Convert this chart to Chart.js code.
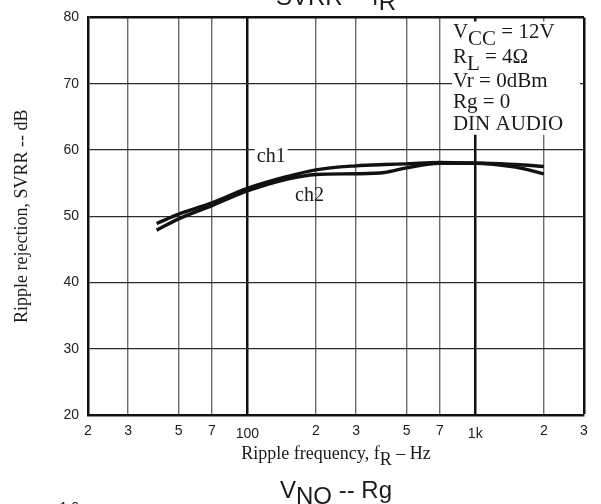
<!DOCTYPE html>
<html lang="en">
<head>
<meta charset="UTF-8">
<title>SVRR -- fR</title>
<script src="https://cdn.jsdelivr.net/npm/chart.js"></script>
<style>
  html, body { margin: 0; padding: 0; background: #fff; }
  canvas { display: block; }
</style>
</head>
<body>
<canvas id="chart" width="601" height="504"></canvas>
<script>
// ripple rejection vs ripple frequency, two channels
const freqs = [40, 50, 70, 100, 150, 200, 300, 400, 500, 700, 1000, 1500, 2000];
const ch1 = [48.9, 50.3, 52.0, 54.2, 56.0, 57.0, 57.6, 57.8, 57.9, 58.1, 58.0, 57.8, 57.5];
const ch2 = [47.9, 49.6, 51.6, 53.8, 55.6, 56.3, 56.4, 56.6, 57.3, 58.0, 58.0, 57.4, 56.4];

const xTicks = [20, 30, 50, 70, 100, 200, 300, 500, 700, 1000, 2000, 3000];
const xTickLabels = ['2', '3', '5', '7', '100', '2', '3', '5', '7', '1k', '2', '3'];
const yTicks = [20, 30, 40, 50, 60, 70, 80];

// test conditions, [text, isSubscript]
const conditions = [
  [['V'], ['CC', 1], [' = 12V']],
  [['R'], ['L', 1], [' = 4\u03A9']],
  [['Vr = 0dBm']],
  [['Rg = 0']],
  [['DIN AUDIO']]
];

const SANS = '"Liberation Sans", Arial, sans-serif';
const SERIF = '"Liberation Serif", "Times New Roman", serif';

Chart.defaults.font.family = SANS;
Chart.defaults.color = '#222';

function runs(ctx, parts, x, y, sub, align) {
  let w = 0;
  parts.forEach(p => { w += ctx.measureText(p[0]).width; });
  let cx = align === 'center' ? x - w / 2 : x;
  ctx.textAlign = 'left';
  parts.forEach(p => {
    ctx.fillText(p[0], cx, p[1] ? y + sub : y);
    cx += ctx.measureText(p[0]).width;
  });
}

const decor = {
  id: 'decor',
  beforeDatasetsDraw(chart) {
    const { ctx, chartArea: a, scales: { x, y } } = chart;
    ctx.save();
    // blank panel for the conditions text
    const bx = x.getPixelForValue(700) + 12;
    const by = y.getPixelForValue(62.3);
    ctx.fillStyle = '#fff';
    ctx.fillRect(bx, a.top + 4, a.right - 4 - bx, by - a.top - 4);

    ctx.fillStyle = '#1a1a1a';
    ctx.font = '21px ' + SERIF;
    ctx.textBaseline = 'alphabetic';
    const base = [21, 46, 70, 91, 113];
    conditions.forEach((row, i) => runs(ctx, row, bx + 1, a.top + base[i], 7, 'left'));

    // curve labels
    ctx.font = '20px ' + SERIF;
    const l1x = x.getPixelForValue(110), l1y = y.getPixelForValue(58.25);
    const w1 = ctx.measureText('ch1').width;
    ctx.fillStyle = '#fff';
    ctx.fillRect(l1x - 2, l1y - 15, w1 + 4, 18);
    ctx.fillStyle = '#1a1a1a';
    ctx.textAlign = 'left';
    ctx.fillText('ch1', l1x, l1y);
    ctx.fillText('ch2', x.getPixelForValue(162), y.getPixelForValue(52.25));
    ctx.restore();
  },
  afterDraw(chart) {
    const { ctx, chartArea: a, scales: { x } } = chart;
    const mid = (a.left + a.right) / 2;
    ctx.save();
    ctx.fillStyle = '#1a1a1a';
    ctx.textBaseline = 'alphabetic';

    // x tick labels, decade labels sit a little lower
    ctx.font = '14px ' + SANS;
    ctx.textAlign = 'center';
    xTicks.forEach((v, i) => {
      const dec = v === 100 || v === 1000;
      ctx.fillText(xTickLabels[i], x.getPixelForValue(v), a.bottom + (dec ? 23 : 20));
    });

    // axis titles
    ctx.font = '18px ' + SERIF;
    runs(ctx, [['Ripple frequency, f'], ['R', 1], [' \u2013 Hz']], mid, a.bottom + 44, 6, 'center');

    ctx.save();
    ctx.translate(22, (a.top + a.bottom) / 2);
    ctx.rotate(-Math.PI / 2);
    ctx.textAlign = 'center';
    ctx.textBaseline = 'middle';
    ctx.fillText('Ripple rejection, SVRR -- dB', 0, 0);
    ctx.restore();

    // titles of this graph and the next one
    ctx.font = '24px ' + SANS;
    runs(ctx, [['SVRR -- f'], ['R', 1]], mid, 5, 5, 'center');
    runs(ctx, [['V'], ['NO', 1], [' -- Rg']], mid, 498, 6, 'center');

    ctx.font = '14px ' + SANS;
    ctx.textAlign = 'right';
    ctx.fillText('1.0', 79, 512);
    ctx.restore();
  }
};

const mk = vals => freqs.map((f, i) => ({ x: f, y: vals[i] }));

new Chart(document.getElementById('chart'), {
  type: 'line',
  data: {
    datasets: [
      { label: 'ch1', data: mk(ch1) },
      { label: 'ch2', data: mk(ch2) }
    ]
  },
  options: {
    responsive: false,
    animation: false,
    layout: { padding: { top: 15, right: 17, left: 0, bottom: 0 } },
    elements: {
      line: { borderColor: '#111', borderWidth: 3.4, cubicInterpolationMode: 'monotone' },
      point: { radius: 0 }
    },
    plugins: { legend: { display: false }, tooltip: { enabled: false } },
    scales: {
      x: {
        type: 'logarithmic',
        min: 20,
        max: 3000,
        afterBuildTicks: s => { s.ticks = xTicks.map(v => ({ value: v })); },
        afterFit: s => { s.height = 89; },
        ticks: { display: false },
        grid: {
          drawTicks: false,
          color: c => {
            const v = c.tick && c.tick.value;
            return (v === 100 || v === 1000 || v === 3000) ? '#111' : '#6a6a6a';
          },
          lineWidth: c => {
            const v = c.tick && c.tick.value;
            if (v === 3000) return 2.5;
            return (v === 100 || v === 1000) ? 2.5 : 1.4;
          }
        },
        border: { color: '#111', width: 2.5 }
      },
      y: {
        min: 20,
        max: 80,
        afterBuildTicks: s => { s.ticks = yTicks.map(v => ({ value: v })); },
        afterFit: s => { s.width = 88; },
        ticks: { padding: 9, font: { size: 14 }, color: '#222' },
        grid: {
          drawTicks: false,
          color: c => (c.tick && c.tick.value === 80) ? '#111' : '#2a2a2a',
          lineWidth: c => (c.tick && c.tick.value === 80) ? 2.5 : 1.3
        },
        border: { color: '#111', width: 2.5 }
      }
    }
  },
  plugins: [decor]
});
</script>
</body>
</html>
